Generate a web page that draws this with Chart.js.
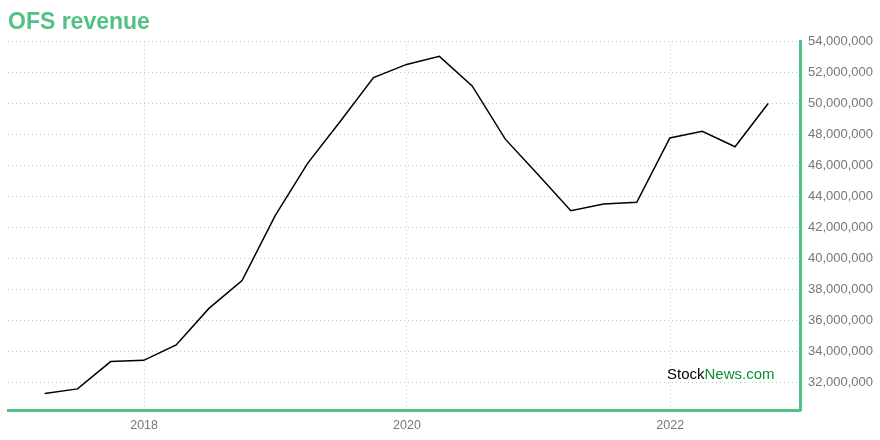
<!DOCTYPE html>
<html>
<head>
<meta charset="utf-8">
<script src="https://cdn.jsdelivr.net/npm/chart.js@4.4.0/dist/chart.umd.min.js"></script>
<style>
  html, body { margin: 0; padding: 0; background: #fff; }
  #wrap { width: 880px; height: 440px; }
</style>
</head>
<body>
<div id="wrap"><canvas id="revenueChart" width="880" height="440"></canvas></div>
<script>
const quarters = [
  "2017-03-31", "2017-06-30", "2017-09-30", "2017-12-31",
  "2018-03-31", "2018-06-30", "2018-09-30", "2018-12-31",
  "2019-03-31", "2019-06-30", "2019-09-30", "2019-12-31",
  "2020-03-31", "2020-06-30", "2020-09-30", "2020-12-31",
  "2021-03-31", "2021-06-30", "2021-09-30", "2021-12-31",
  "2022-03-31", "2022-06-30", "2022-09-30",
];
const revenue = [
  31310000, 31610000, 33370000, 33450000,
  34440000, 36800000, 38600000, 42780000,
  46150000, 48870000, 51680000, 52530000,
  53050000, 51140000, 47710000, 45400000,
  43100000, 43530000, 43640000, 47790000,
  48220000, 47220000, 50010000,
];
const yearTicks = [2018, 2020, 2022];
const revenueTicks = [
  32000000, 34000000, 36000000, 38000000, 40000000, 42000000,
  44000000, 46000000, 48000000, 50000000, 52000000, 54000000,
];

const green = "#52c283";
const gridGreen = "#9edcbd";

const points = quarters.map((d, i) => ({ x: Date.parse(d + "T00:00:00Z"), y: revenue[i] }));

const watermark = {
  id: "watermark",
  afterDraw(chart) {
    const ctx = chart.ctx;
    ctx.save();
    ctx.font = "15px 'Liberation Sans', Arial, sans-serif";
    ctx.textBaseline = "alphabetic";
    ctx.textAlign = "left";
    const x = 667;
    const y = 379;
    ctx.fillStyle = "#000";
    ctx.fillText("Stock", x, y);
    const w = ctx.measureText("Stock").width;
    ctx.fillStyle = "#0b8f36";
    ctx.fillText("News.com", x + w, y);
    ctx.restore();
  },
};

const ctx = document.getElementById("revenueChart").getContext("2d");

new Chart(ctx, {
  type: "line",
  data: {
    datasets: [
      {
        data: points,
        borderColor: "#000",
        borderWidth: 1.5,
        pointRadius: 0,
        tension: 0,
        fill: false,
      },
    ],
  },
  options: {
    responsive: false,
    animation: false,
    layout: {
      padding: { left: 8, right: 0, top: 0, bottom: -1 },
    },
    plugins: {
      legend: { display: false },
      tooltip: { enabled: false },
      title: {
        display: true,
        text: "OFS revenue",
        align: "start",
        color: green,
        font: { family: "'Liberation Sans', Arial, sans-serif", size: 23, weight: "bold" },
        padding: { top: 9, bottom: 5 },
      },
    },
    scales: {
      x: {
        type: "linear",
        min: Date.UTC(2016, 11, 19),
        max: Date.UTC(2022, 11, 30),
        afterBuildTicks: (scale) => {
          scale.ticks = yearTicks.map((y) => ({ value: Date.UTC(y, 0, 1) }));
        },
        ticks: {
          color: "#777",
          font: { family: "'Liberation Sans', Arial, sans-serif", size: 12.5 },
          padding: 8,
          maxRotation: 0,
          callback: (v) => new Date(v).getUTCFullYear(),
        },
        grid: { color: gridGreen, lineWidth: 1, drawTicks: false },
        border: { color: green, width: 3, dash: [1, 3] },
      },
      y: {
        position: "right",
        min: 30250000,
        max: 54000000,
        afterBuildTicks: (scale) => {
          scale.ticks = revenueTicks.map((v) => ({ value: v }));
        },
        ticks: {
          color: "#777",
          font: { family: "'Liberation Sans', Arial, sans-serif", size: 13 },
          padding: 7,
          callback: (v) => v.toLocaleString("en-US"),
        },
        grid: { color: gridGreen, lineWidth: 1, drawTicks: false },
        border: { color: green, width: 3, dash: [1, 3] },
      },
    },
  },
  plugins: [watermark],
});
</script>
</body>
</html>
